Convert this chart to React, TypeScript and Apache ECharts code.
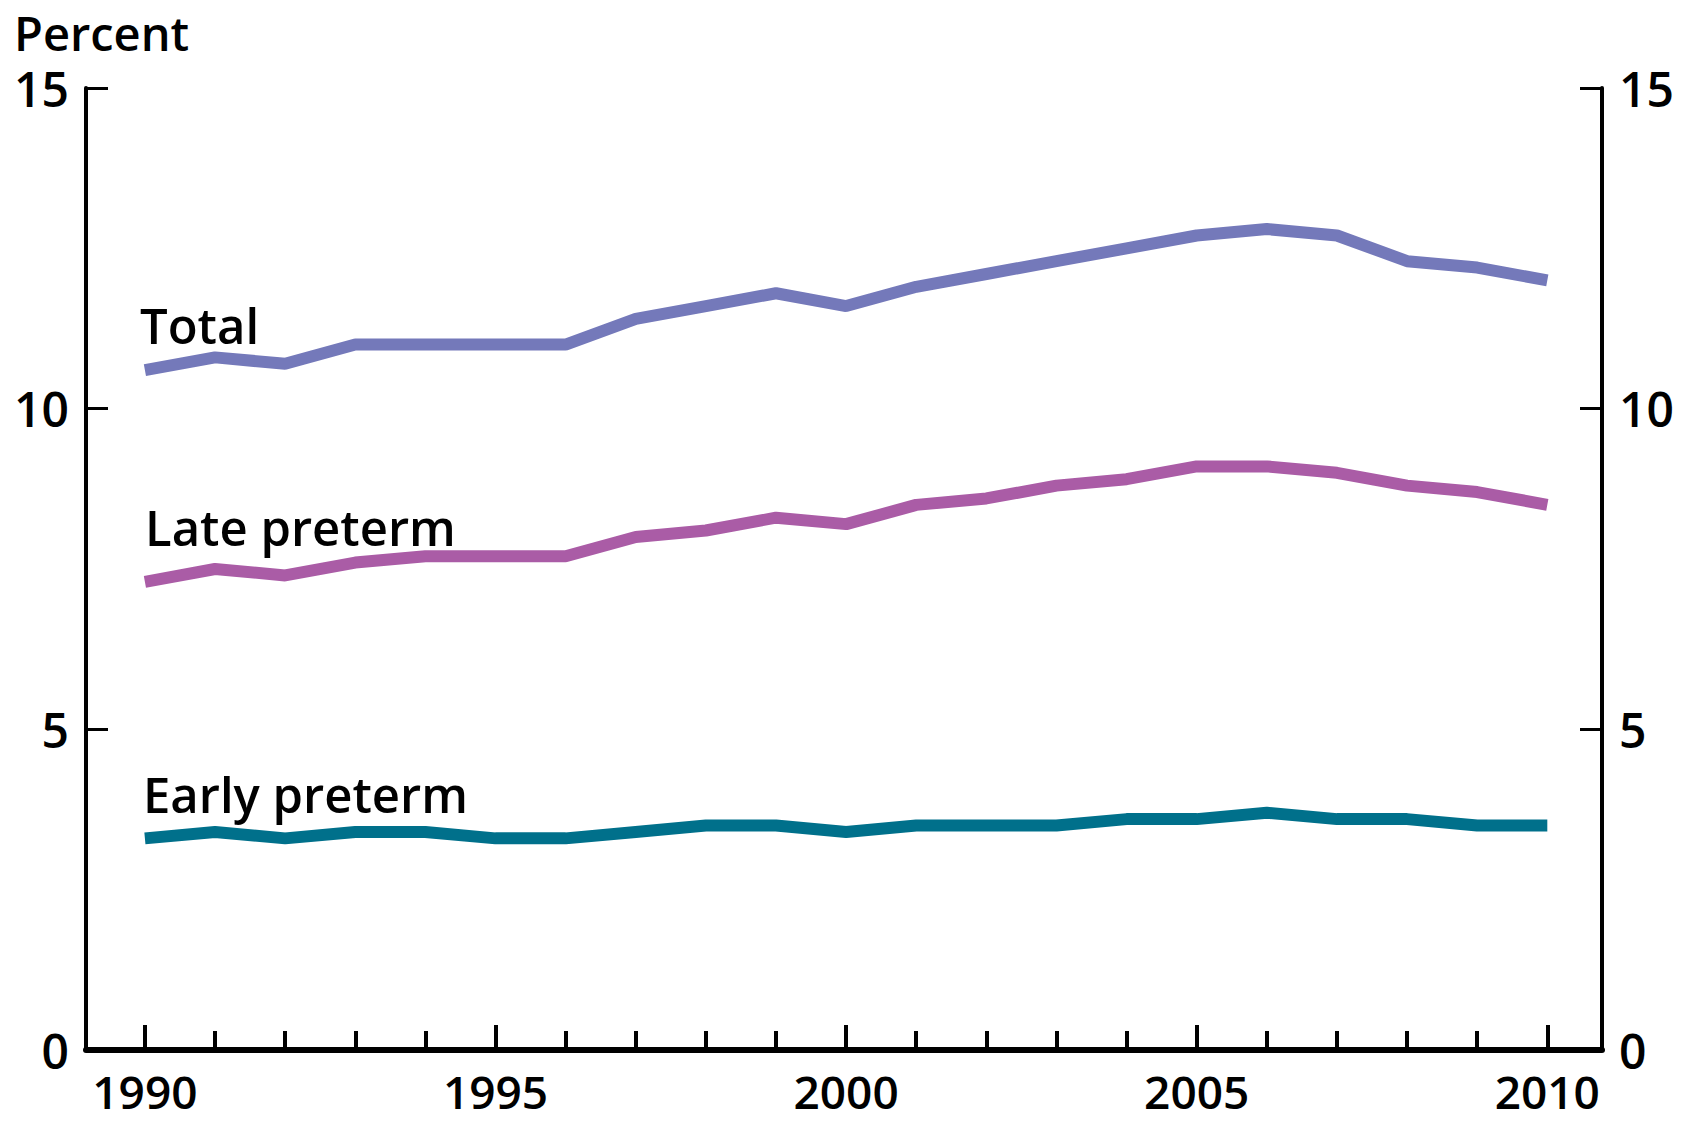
import React, { useEffect, useRef } from "react";
import * as echarts from "echarts";

const years = [1990, 1991, 1992, 1993, 1994, 1995, 1996, 1997, 1998, 1999, 2000, 2001, 2002, 2003, 2004, 2005, 2006, 2007, 2008, 2009, 2010];
const majorYears = [1990, 1995, 2000, 2005, 2010];
const totalValues = [10.6, 10.8, 10.7, 11.0, 11.0, 11.0, 11.0, 11.4, 11.6, 11.8, 11.6, 11.9, 12.1, 12.3, 12.5, 12.7, 12.8, 12.7, 12.3, 12.2, 12.0];
const lateValues = [7.3, 7.5, 7.4, 7.6, 7.7, 7.7, 7.7, 8.0, 8.1, 8.3, 8.2, 8.5, 8.6, 8.8, 8.9, 9.1, 9.1, 9.0, 8.8, 8.7, 8.5];
const earlyValues = [3.3, 3.4, 3.3, 3.4, 3.4, 3.3, 3.3, 3.4, 3.5, 3.5, 3.4, 3.5, 3.5, 3.5, 3.6, 3.6, 3.7, 3.6, 3.6, 3.5, 3.5];

const FONT = "Open Sans";

export default function App() {
  const ref = useRef<HTMLDivElement>(null);
  useEffect(() => {
    if (!ref.current) return;
    const chart = echarts.init(ref.current, null, { renderer: "svg" });
    const pair = (vals: number[]) => years.map((y, i) => [y, vals[i]]);
    const labelStyle = { fontFamily: FONT, fontWeight: 600, color: "#000" };
    const yAxisBase = {
      type: "value",
      min: 0,
      max: 15,
      interval: 5,
      splitLine: { show: false },
      axisLine: { show: true, lineStyle: { color: "#000", width: 4 } },
      axisTick: { show: true, inside: true, length: 22, lineStyle: { color: "#000", width: 3 } },
      axisLabel: { ...labelStyle, fontSize: 48, lineHeight: 40, margin: 17 },
    };
    const option: any = {
      animation: false,
      backgroundColor: "#fff",
      grid: { left: 86, right: 86, top: 88, bottom: 73, containLabel: false },
      xAxis: [
        {
          type: "value",
          min: 1989.16,
          max: 2010.78,
          position: "bottom",
          splitLine: { show: false },
          axisLine: { show: true, onZero: false, lineStyle: { color: "#000", width: 6 } },
          axisTick: { show: true, inside: true, length: 19, customValues: years, lineStyle: { color: "#000", width: 4 } },
          axisLabel: { ...labelStyle, fontSize: 46, lineHeight: 46, margin: 18, customValues: majorYears, formatter: (v: number) => String(Math.round(v)) },
        },
        {
          type: "value",
          min: 1989.16,
          max: 2010.78,
          position: "bottom",
          splitLine: { show: false },
          axisLine: { show: false, onZero: false },
          axisTick: { show: true, inside: true, length: 25, customValues: majorYears, lineStyle: { color: "#000", width: 4 } },
          axisLabel: { show: false },
        },
      ],
      yAxis: [
        { ...yAxisBase, position: "left" },
        { ...yAxisBase, position: "right" },
      ],
      series: [
        { name: "Total", type: "line", data: pair(totalValues), symbol: "none", lineStyle: { color: "#7479BA", width: 12 } },
        { name: "Late preterm", type: "line", data: pair(lateValues), symbol: "none", lineStyle: { color: "#AA5CA6", width: 12 } },
        { name: "Early preterm", type: "line", data: pair(earlyValues), symbol: "none", lineStyle: { color: "#00708B", width: 12 } },
      ],
      graphic: [
        { type: "text", x: 14, y: 33, style: { text: "Percent", font: `600 47px "${FONT}"`, fill: "#000", verticalAlign: "middle", lineHeight: 44 } },
        { type: "text", x: 140, y: 325, style: { text: "Total", font: `600 49px "${FONT}"`, fill: "#000", verticalAlign: "middle" } },
        { type: "text", x: 145, y: 527, style: { text: "Late preterm", font: `600 49px "${FONT}"`, fill: "#000", verticalAlign: "middle" } },
        { type: "text", x: 143, y: 794, style: { text: "Early preterm", font: `600 49px "${FONT}"`, fill: "#000", verticalAlign: "middle" } },
      ],
    };
    chart.setOption(option);
    return () => chart.dispose();
  }, []);
  return <div ref={ref} style={{ position: "fixed", left: 0, top: 0, width: 1688, height: 1123 }} />;
}
